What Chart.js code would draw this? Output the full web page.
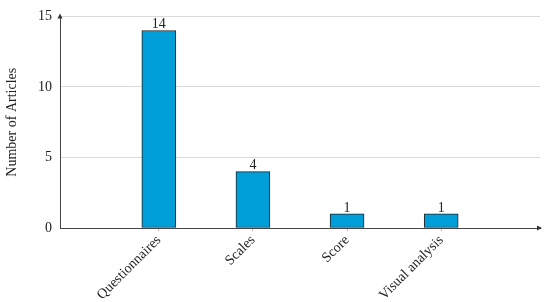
<!DOCTYPE html>
<html>
<head>
<meta charset="utf-8">
<script src="https://cdn.jsdelivr.net/npm/chart.js@4/dist/chart.umd.min.js"></script>
<style>
  html, body { margin: 0; padding: 0; background: #fff; }
</style>
</head>
<body>
<canvas id="chart" width="550" height="302"></canvas>
<script>
// data
var categories = ["Questionnaires", "Scales", "Score", "Visual analysis"];
var articleCounts = [14, 4, 1, 1];
var yTicks = [0, 5, 10, 15];

var serif = "'Liberation Serif', 'DejaVu Serif', serif";

var points = categories.map(function(c, i) { return { x: i, y: articleCounts[i] }; });

// value above each bar + arrow heads on the axes
var extras = {
  id: 'extras',
  afterDatasetsDraw: function(chart) {
    var ctx = chart.ctx;
    var meta = chart.getDatasetMeta(0);
    ctx.save();
    ctx.fillStyle = '#222';
    ctx.font = "14px " + serif;
    ctx.textAlign = 'center';
    ctx.textBaseline = 'bottom';
    meta.data.forEach(function(bar, i) {
      ctx.fillText(articleCounts[i], bar.x, bar.y + 1);
    });
    ctx.restore();
  },
  afterDraw: function(chart) {
    var ctx = chart.ctx;
    var a = chart.chartArea;
    ctx.save();
    ctx.fillStyle = '#333';
    ctx.beginPath();
    ctx.moveTo(a.left, a.top - 3);
    ctx.lineTo(a.left - 2.5, a.top + 2);
    ctx.lineTo(a.left + 2.5, a.top + 2);
    ctx.fill();
    ctx.beginPath();
    ctx.moveTo(a.right + 2, a.bottom);
    ctx.lineTo(a.right - 3, a.bottom - 2.5);
    ctx.lineTo(a.right - 3, a.bottom + 2.5);
    ctx.fill();
    ctx.restore();
  }
};

new Chart(document.getElementById('chart').getContext('2d'), {
  type: 'bar',
  data: {
    datasets: [{
      data: points,
      backgroundColor: '#009fda',
      borderColor: '#222',
      borderWidth: 1,
      borderSkipped: false,
      barThickness: 34
    }]
  },
  options: {
    responsive: false,
    animation: false,
    layout: { padding: { top: 16, right: 10, left: 0, bottom: 0 } },
    plugins: { legend: { display: false }, tooltip: { enabled: false } },
    scales: {
      x: {
        type: 'linear',
        offset: false,
        min: -1.05,
        max: 4.05,
        afterBuildTicks: function(scale) {
          scale.ticks = categories.map(function(c, i) { return { value: i }; });
        },
        afterFit: function(scale) { scale.height = 74; },
        grid: { display: true, offset: false, color: 'rgba(0,0,0,0)', tickColor: '#bbb', drawTicks: true, tickLength: 3 },
        border: { color: '#444', width: 1 },
        ticks: {
          color: '#222',
          font: { family: serif, size: 14 },
          minRotation: 45,
          maxRotation: 45,
          padding: 1,
          callback: function(v) { return categories[v]; }
        }
      },
      y: {
        min: 0,
        max: 15,
        afterBuildTicks: function(scale) {
          scale.ticks = yTicks.map(function(v) { return { value: v }; });
        },
        afterFit: function(scale) { scale.width = 60; },
        grid: {
          color: function(c) { return c.tick.value === 0 ? 'rgba(0,0,0,0)' : '#d9d9d9'; },
          drawTicks: false
        },
        border: { color: '#444', width: 1 },
        title: {
          display: true,
          text: 'Number of Articles',
          color: '#222',
          font: { family: serif, size: 14 },
          padding: { top: 4, bottom: 0 }
        },
        ticks: {
          color: '#222',
          font: { family: serif, size: 14 },
          padding: 8
        }
      }
    }
  },
  plugins: [extras]
});
</script>
</body>
</html>
